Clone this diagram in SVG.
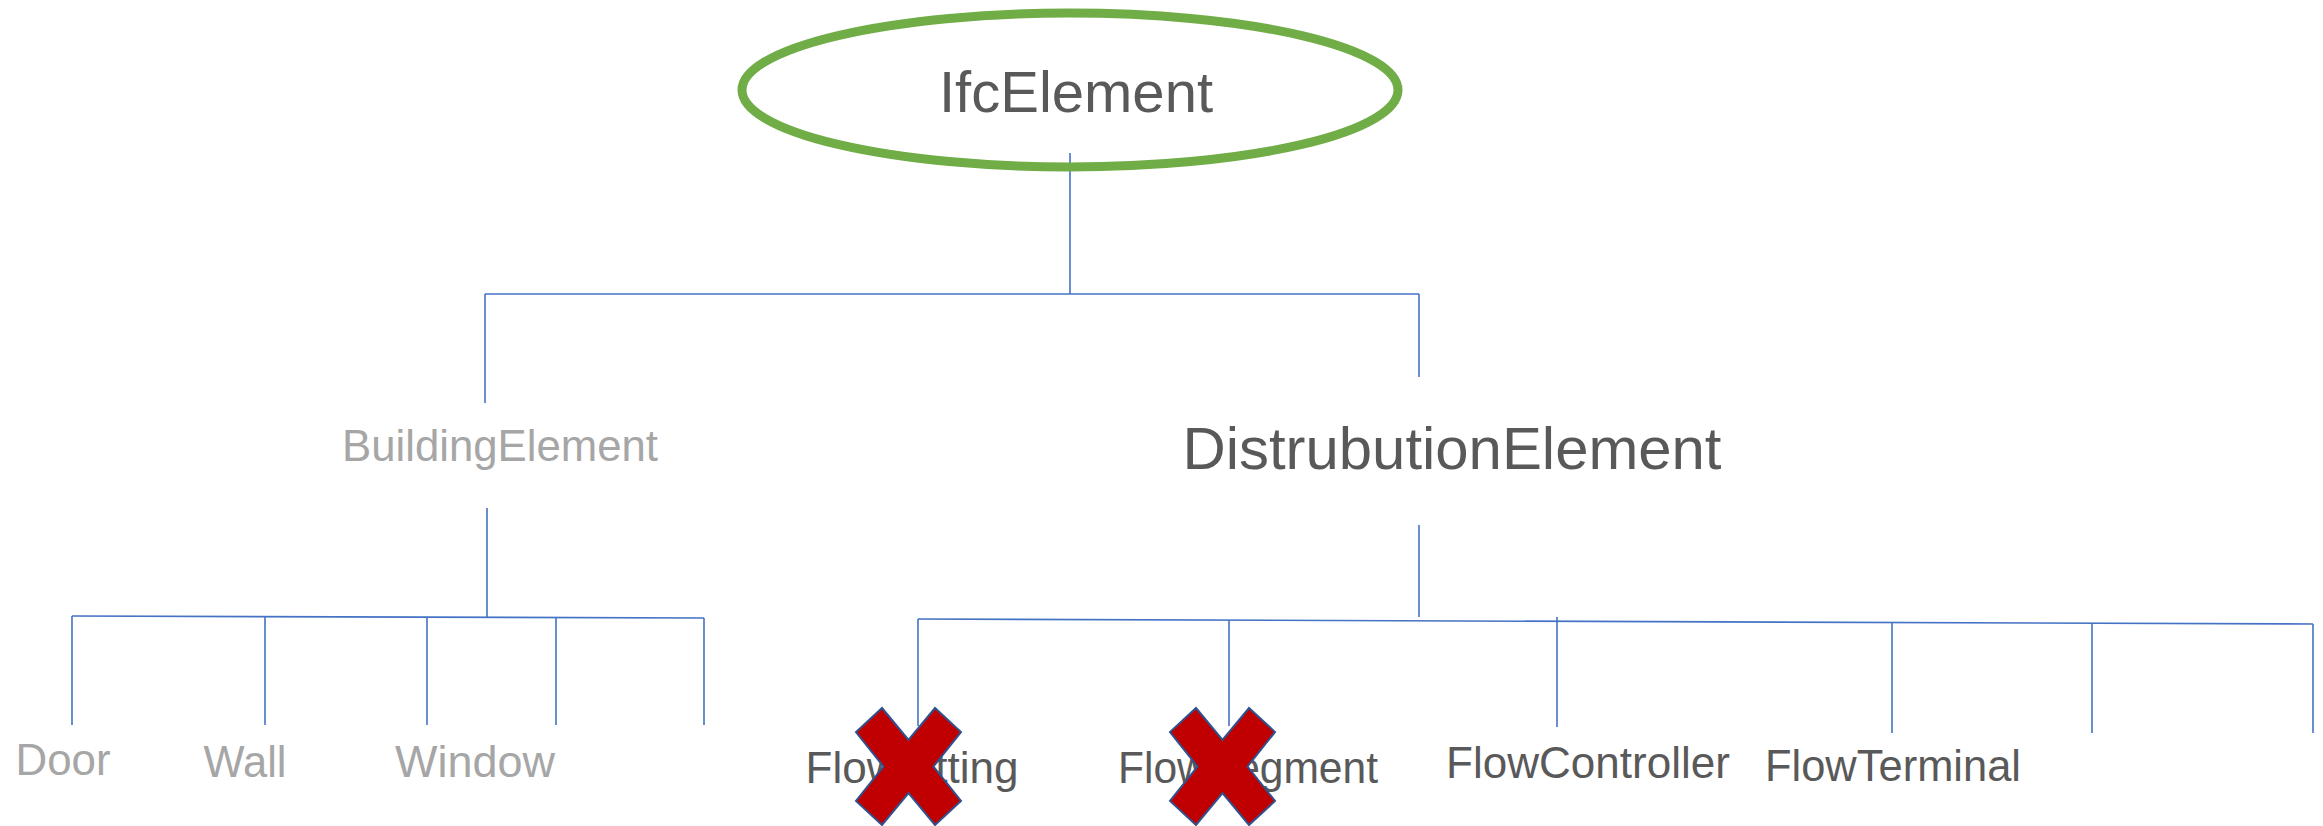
<svg xmlns="http://www.w3.org/2000/svg" width="2323" height="826" viewBox="0 0 2323 826">
<style>
.ln{stroke:#4472C4;stroke-width:1.6;fill:none}
.t{font-family:"Liberation Sans",Arial,sans-serif;text-anchor:middle}
.dk{fill:#595959}
.lt{fill:#A6A6A6}
.x{fill:#C00000;stroke:#2F528F;stroke-width:2;stroke-linejoin:miter}
</style>
<defs>
<path id="xmark" d="M-26.5,-58.5 L0,-26.5 L26.5,-58.5 L52.5,-34.5 L25,0 L52.5,34.5 L26.5,58.5 L0,26.5 L-26.5,58.5 L-52.5,34.5 L-25,0 L-52.5,-34.5 Z"/>
</defs>
<rect width="2323" height="826" fill="#FFFFFF"/>
<g id="connectors">
<line class="ln" x1="1070" y1="153" x2="1070" y2="294"/>
<line class="ln" x1="485" y1="294" x2="1419" y2="294"/>
<line class="ln" x1="485" y1="294" x2="485" y2="403"/>
<line class="ln" x1="1419" y1="294" x2="1419" y2="377"/>
<line class="ln" x1="487" y1="508" x2="487" y2="617"/>
<line class="ln" x1="72" y1="616" x2="704" y2="618"/>
<line class="ln" x1="72" y1="616" x2="72" y2="725"/>
<line class="ln" x1="265" y1="617" x2="265" y2="725"/>
<line class="ln" x1="427" y1="617" x2="427" y2="725"/>
<line class="ln" x1="556" y1="617" x2="556" y2="725"/>
<line class="ln" x1="704" y1="618" x2="704" y2="725"/>
<line class="ln" x1="1419" y1="525" x2="1419" y2="617"/>
<line class="ln" x1="918" y1="619" x2="2313" y2="624"/>
<line class="ln" x1="918" y1="619" x2="918" y2="726"/>
<line class="ln" x1="1229" y1="620" x2="1229" y2="726"/>
<line class="ln" x1="1557" y1="617" x2="1557" y2="727"/>
<line class="ln" x1="1892" y1="622" x2="1892" y2="733"/>
<line class="ln" x1="2092" y1="623" x2="2092" y2="733"/>
<line class="ln" x1="2313" y1="624" x2="2313" y2="733"/>
</g>
<g id="ifcelement">
<ellipse cx="1070" cy="90" rx="328" ry="77" fill="none" stroke="#70AD47" stroke-width="9"/>
<text class="t dk" x="1076" y="112" font-size="58">IfcElement</text>
</g>
<g id="buildingelement">
<text class="t lt" x="500" y="461" font-size="44" textLength="316" lengthAdjust="spacingAndGlyphs">BuildingElement</text>
</g>
<g id="distrubutionelement">
<text class="t dk" x="1452" y="469" font-size="60" textLength="539" lengthAdjust="spacingAndGlyphs">DistrubutionElement</text>
</g>
<g id="door"><text class="t lt" x="63" y="775" font-size="44" textLength="95" lengthAdjust="spacingAndGlyphs">Door</text></g>
<g id="wall"><text class="t lt" x="245" y="777" font-size="44" textLength="83" lengthAdjust="spacingAndGlyphs">Wall</text></g>
<g id="window"><text class="t lt" x="475" y="777" font-size="44" textLength="160" lengthAdjust="spacingAndGlyphs">Window</text></g>
<g id="flowfitting"><text class="t dk" x="912" y="783" font-size="44" textLength="213" lengthAdjust="spacingAndGlyphs">FlowFitting</text></g>
<g id="flowsegment"><text class="t dk" x="1248" y="783" font-size="44" textLength="260" lengthAdjust="spacingAndGlyphs">FlowSegment</text></g>
<g id="flowcontroller"><text class="t dk" x="1588" y="778" font-size="44" textLength="284" lengthAdjust="spacingAndGlyphs">FlowController</text></g>
<g id="flowterminal"><text class="t dk" x="1893" y="781" font-size="44" textLength="256" lengthAdjust="spacingAndGlyphs">FlowTerminal</text></g>
<g id="cross1"><use href="#xmark" class="x" transform="translate(908.5,766.5)"/></g>
<g id="cross2"><use href="#xmark" class="x" transform="translate(1222.5,766.5)"/></g>
</svg>
